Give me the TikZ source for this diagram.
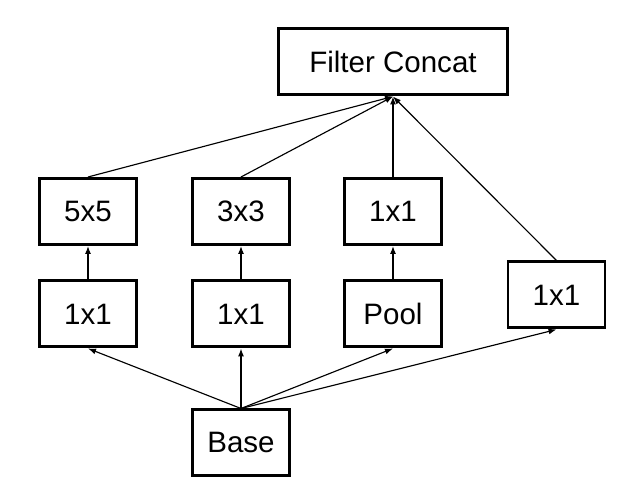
\documentclass[tikz,border=0pt]{standalone}
\usepackage{fontspec}
\setmainfont{Liberation Sans}
\usetikzlibrary{arrows.meta}

\begin{document}
\begin{tikzpicture}[
  box/.style={draw,line width=1.7pt,minimum width=1.94cm,minimum height=1.32cm,
    inner sep=0pt,font=\fontsize{16.8}{20}\selectfont},
  link/.style={line width=0.65pt,-{Latex[length=1.6mm,width=1.2mm]}}]
 \useasboundingbox (0,0) rectangle (12.6,10);
 % top
 \node[box,minimum width=4.58cm] (concat) at (7.86,8.76) {Filter Concat};
 % branches
 \node[box] (conv5) at (1.76,5.77) {5x5};
 \node[box] (conv3) at (4.82,5.77) {3x3};
 \node[box] (convp) at (7.86,5.77) {1x1};
 \node[box] (red5) at (1.76,3.72) {1x1};
 \node[box] (red3) at (4.82,3.72) {1x1};
 \node[box] (pool) at (7.86,3.72) {Pool};
 \node[box] (conv1) at (11.13,4.1) {1x1};
 % input
 \node[box] (base) at (4.82,1.14) {Base};
 \foreach \b in {red5,red3,pool,conv1}
   \draw[link] (base.north) -- (\b.south);
 \draw[link] (red5) -- (conv5);
 \draw[link] (red3) -- (conv3);
 \draw[link] (pool) -- (convp);
 \foreach \b in {conv5,conv3,convp,conv1}
   \draw[link] (\b.north) -- (concat.south);
\end{tikzpicture}
\end{document}
